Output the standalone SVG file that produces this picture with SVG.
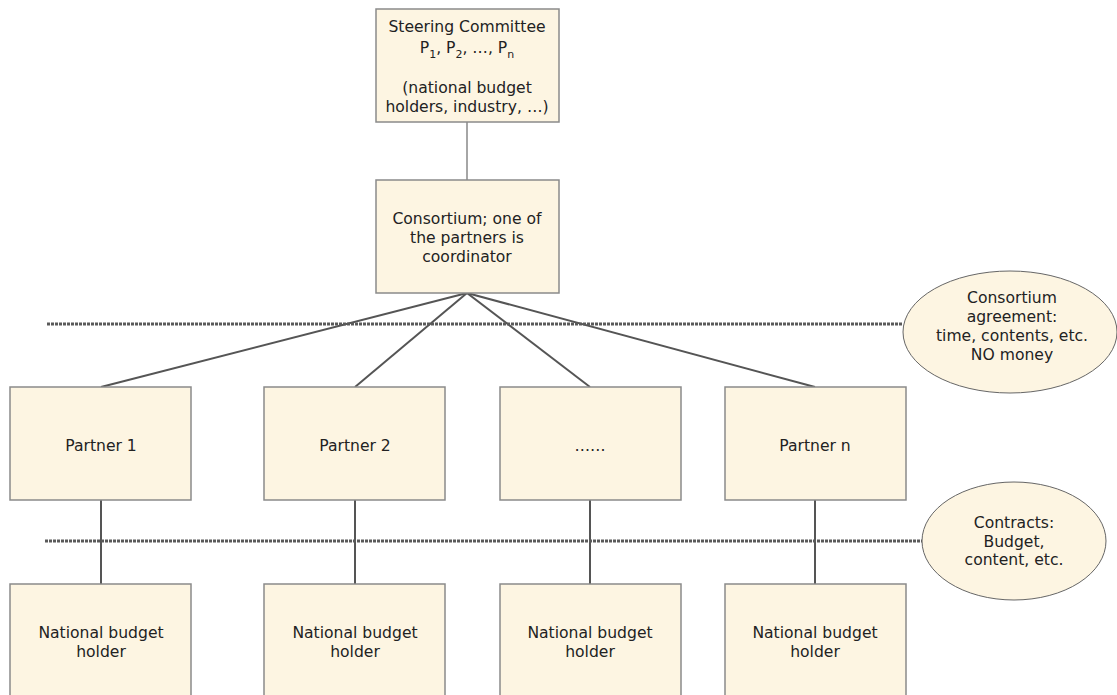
<svg xmlns="http://www.w3.org/2000/svg" width="1117" height="695" viewBox="0 0 1117 695">
<style>
.box{fill:#fdf5e2;stroke:#8a8a8a;stroke-width:1.5}
.t{font-family:"DejaVu Sans",Verdana,sans-serif;font-size:15.6px;fill:#222;text-anchor:middle}
.c{stroke:#555;stroke-width:2;fill:none}
.d{stroke:#5a5a5a;stroke-width:3;stroke-dasharray:3 1;fill:none}
</style>
<rect width="1117" height="695" fill="#fff"/>
<g id="connectors">
<line class="c" x1="467" y1="122" x2="467" y2="180" style="stroke:#888;stroke-width:1.5"/>
<line class="c" x1="467" y1="293" x2="101" y2="387"/>
<line class="c" x1="467" y1="293" x2="355" y2="387"/>
<line class="c" x1="467" y1="293" x2="590" y2="387"/>
<line class="c" x1="467" y1="293" x2="815" y2="387"/>
<line class="c" x1="101" y1="500" x2="101" y2="584"/>
<line class="c" x1="355" y1="500" x2="355" y2="584"/>
<line class="c" x1="590" y1="500" x2="590" y2="584"/>
<line class="c" x1="815" y1="500" x2="815" y2="584"/>
<line class="d" x1="47" y1="324" x2="903" y2="324"/>
<line class="d" x1="45" y1="541" x2="922" y2="541"/>
</g>
<g id="steering">
<rect class="box" x="376" y="9" width="183" height="113"/>
<text class="t" x="467" y="32">Steering Committee</text>
<text class="t" x="467" y="53">P<tspan font-size="11" dy="5">1</tspan><tspan dy="-5">, P</tspan><tspan font-size="11" dy="5">2</tspan><tspan dy="-5">, …, P</tspan><tspan font-size="11" dy="5">n</tspan></text>
<text class="t" x="467" y="93">(national budget</text>
<text class="t" x="467" y="112">holders, industry, …)</text>
</g>
<g id="consortium">
<rect class="box" x="376" y="180" width="183" height="113"/>
<text class="t" x="467" y="224">Consortium; one of</text>
<text class="t" x="467" y="243">the partners is</text>
<text class="t" x="467" y="262">coordinator</text>
</g>
<g id="partner1"><rect class="box" x="10" y="387" width="181" height="113"/><text class="t" x="101" y="451">Partner 1</text></g>
<g id="partner2"><rect class="box" x="264" y="387" width="181" height="113"/><text class="t" x="355" y="451">Partner 2</text></g>
<g id="partnerdots"><rect class="box" x="500" y="387" width="181" height="113"/><text class="t" x="590" y="451">……</text></g>
<g id="partnern"><rect class="box" x="725" y="387" width="181" height="113"/><text class="t" x="815" y="451">Partner n</text></g>
<g id="nbh1"><rect class="box" x="10" y="584" width="181" height="120"/><text class="t" x="101" y="638">National budget</text><text class="t" x="101" y="657">holder</text></g>
<g id="nbh2"><rect class="box" x="264" y="584" width="181" height="120"/><text class="t" x="355" y="638">National budget</text><text class="t" x="355" y="657">holder</text></g>
<g id="nbh3"><rect class="box" x="500" y="584" width="181" height="120"/><text class="t" x="590" y="638">National budget</text><text class="t" x="590" y="657">holder</text></g>
<g id="nbh4"><rect class="box" x="725" y="584" width="181" height="120"/><text class="t" x="815" y="638">National budget</text><text class="t" x="815" y="657">holder</text></g>
<g id="agreement">
<ellipse class="box" cx="1010" cy="332" rx="107" ry="61" style="stroke:#666;stroke-width:1"/>
<text class="t" x="1012" y="303">Consortium</text>
<text class="t" x="1012" y="322">agreement:</text>
<text class="t" x="1012" y="341">time, contents, etc.</text>
<text class="t" x="1012" y="360">NO money</text>
</g>
<g id="contracts">
<ellipse class="box" cx="1014" cy="541" rx="92" ry="59" style="stroke:#666;stroke-width:1"/>
<text class="t" x="1014" y="528">Contracts:</text>
<text class="t" x="1014" y="547">Budget,</text>
<text class="t" x="1014" y="565">content, etc.</text>
</g>
</svg>
